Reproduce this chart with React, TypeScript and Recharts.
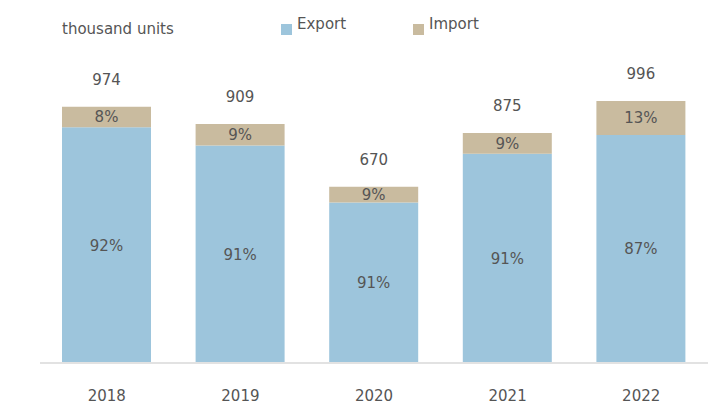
import React from 'react';
import { BarChart, Bar, XAxis, YAxis, Legend, LabelList } from 'recharts';

const years = ['2018', '2019', '2020', '2021', '2022'];
const exportValues = [896, 827, 610, 796, 867];
const importValues = [78, 82, 60, 79, 129];
const totalLabels = ['974', '909', '670', '875', '996'];
const exportShares = ['92%', '91%', '91%', '91%', '87%'];
const importShares = ['8%', '9%', '9%', '9%', '13%'];

const data = years.map((year, i) => ({
  year,
  export: exportValues[i],
  import: importValues[i],
  total: totalLabels[i],
  exportShare: exportShares[i],
  importShare: importShares[i],
}));

const font = '"DejaVu Sans", Arial, sans-serif';
const textColor = '#555';

const renderLegend = (props: any) => {
  const items = props.payload || [];
  const lefts = [281, 413];
  return (
    <div style={{ position: 'relative', width: 723, height: 40, fontFamily: font, fontSize: 15, color: textColor }}>
      <span style={{ position: 'absolute', left: 62, top: 20 }}>thousand units</span>
      {items.map((item: any, i: number) => (
        <div key={item.value} style={{ position: 'absolute', left: lefts[i], top: 15, display: 'flex', alignItems: 'flex-start' }}>
          <span style={{ width: 11, height: 11, background: item.color, marginTop: 9, marginRight: 5 }} />
          <span>{item.value}</span>
        </div>
      ))}
    </div>
  );
};

const App: React.FC = () => {
  return (
    <div style={{ position: 'absolute', left: 0, top: 0, width: 723, height: 410, background: 'white' }}>
      <BarChart
        width={723}
        height={410}
        data={data}
        margin={{ top: 100, right: 15, left: 40, bottom: 17 }}
        style={{ fontFamily: font }}
      >
        <XAxis
          dataKey="year"
          height={30}
          tickLine={false}
          tickSize={0}
          tickMargin={27}
          axisLine={{ stroke: '#e2e2e2', strokeWidth: 2 }}
          tick={{ fill: textColor, fontSize: 15 }}
        />
        <YAxis hide domain={[0, 1000]} />
        <Legend
          layout="horizontal"
          verticalAlign="middle"
          align="center"
          wrapperStyle={{ top: 0, left: 0, width: 723 }}
          content={renderLegend}
        />
        <Bar dataKey="export" name="Export" stackId="a" fill="#9dc5dc" barSize={89} isAnimationActive={false}>
          <LabelList dataKey="exportShare" position="center" fill={textColor} fontSize={15} />
        </Bar>
        <Bar dataKey="import" name="Import" stackId="a" fill="#c9bb9f" barSize={89} isAnimationActive={false}>
          <LabelList dataKey="importShare" position="center" fill={textColor} fontSize={15} />
          <LabelList dataKey="total" position="top" offset={22} fill={textColor} fontSize={15} />
        </Bar>
      </BarChart>
    </div>
  );
};

export default App;
